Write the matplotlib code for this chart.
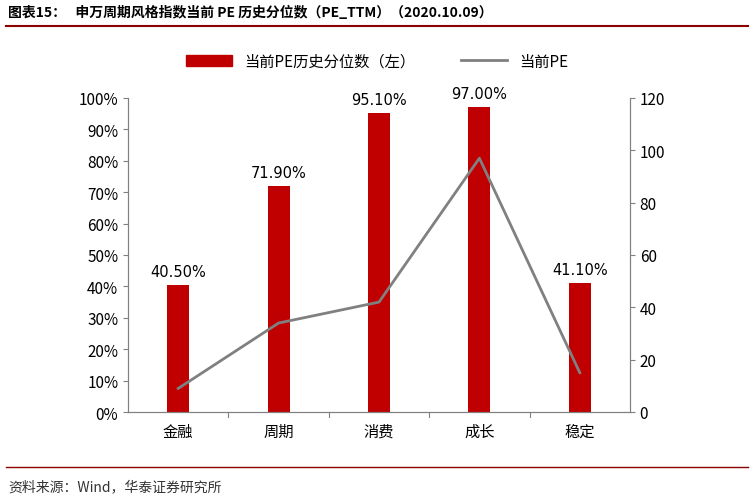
import matplotlib.pyplot as plt
from matplotlib.lines import Line2D

plt.rcParams['font.family'] = ['Noto Sans CJK SC', 'DejaVu Sans']

categories = ['金融', '周期', '消费', '成长', '稳定']
pe_pct = [40.5, 71.9, 95.1, 97.0, 41.1]
pe_now = [9, 34, 42, 97, 15]
pct_ticks = [0, 10, 20, 30, 40, 50, 60, 70, 80, 90, 100]

fig = plt.figure(figsize=(7.54, 5.02), dpi=100)
ax = fig.add_axes([128 / 754, 1 - 413 / 502, 502 / 754, 314 / 502])
ax2 = ax.twinx()

x = range(len(categories))
ax.bar(x, pe_pct, width=0.22, color='#C00000', zorder=2)
for i, v in zip(x, pe_pct):
    ax.text(i, v + 2.0, f'{v:.2f}%', ha='center', va='bottom', fontsize=10.5, fontfamily='DejaVu Sans')
ax2.plot(list(x), pe_now, color='#808080', lw=2)

ax.set_ylim(0, 100)
ax.set_yticks(pct_ticks)
ax.set_yticklabels([f'{t}%' for t in pct_ticks], fontsize=11)
ax2.set_ylim(0, 120)
ax2.set_yticks(range(0, 121, 20))
ax2.tick_params(labelsize=11)
ax.set_xlim(-0.5, 4.5)
ax.set_xticks(list(x))
ax.set_xticklabels(categories, fontsize=11)
ax.tick_params(axis='x', length=0, pad=8)
for a in (ax, ax2):
    a.spines['top'].set_visible(False)
    for s in a.spines.values():
        s.set_color('#808080')
ax.tick_params(axis='y', color='#808080')
ax2.tick_params(axis='y', color='#808080')
for b in [0.5, 1.5, 2.5, 3.5]:
    ax.plot([b, b], [0, -1.5], color='#808080', lw=0.8, clip_on=False)

handles = [plt.Rectangle((0, 0), 1, 1, color='#C00000'), Line2D([], [], color='#808080', lw=2)]
fig.legend(handles, ['当前PE历史分位数（左）', '当前PE'], loc='center', bbox_to_anchor=(0.5, 1 - 62 / 502),
           ncol=2, frameon=False, fontsize=11, handlelength=3, columnspacing=3)

fig.text(8 / 754, 1 - 13 / 502, '图表15：   申万周期风格指数当前 PE 历史分位数（PE_TTM）（2020.10.09）',
         fontsize=10, fontweight='bold', va='center')
fig.add_artist(Line2D([0.008, 0.992], [1 - 27 / 502] * 2, color='#8B0000', lw=1.5))
fig.add_artist(Line2D([0.008, 0.992], [1 - 468 / 502] * 2, color='#8B0000', lw=1))
fig.text(8 / 754, 1 - 487 / 502, '资料来源：Wind，华泰证券研究所', fontsize=10, color='#333333', va='center')

fig.savefig('out.png', dpi=100)
